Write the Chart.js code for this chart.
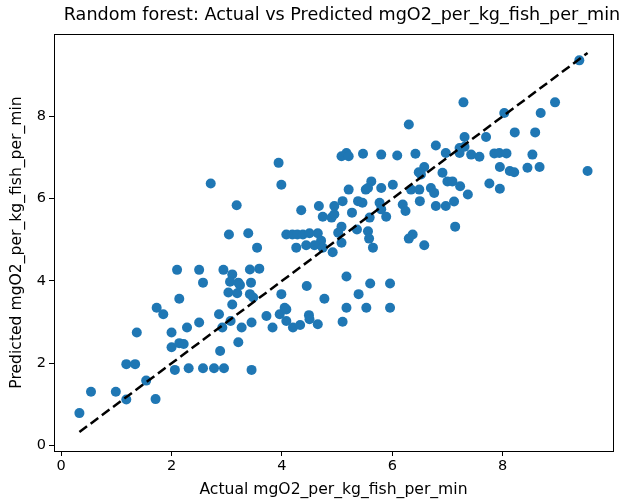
<!DOCTYPE html>
<html>
<head>
<meta charset="utf-8">
<script src="https://cdn.jsdelivr.net/npm/chart.js@4"></script>
<style>
  html, body { margin: 0; padding: 0; background: #fff; }
  canvas { display: block; }
</style>
</head>
<body>
<canvas id="c" width="633" height="500"></canvas>
<script>
const chartTitle = "Random forest: Actual vs Predicted mgO2_per_kg_fish_per_min";
const xAxisTitle = "Actual mgO2_per_kg_fish_per_min";
const yAxisTitle = "Predicted mgO2_per_kg_fish_per_min";

const actual = [
  0.33,0.54,0.99,1.18,1.18,1.34,1.37,1.54,1.71,1.73,
  1.85,2.00,2.00,2.14,2.22,2.06,2.31,2.28,2.50,2.57,
  2.77,2.95,2.88,2.92,3.07,3.21,2.10,2.50,2.57,2.94,
  3.10,3.06,3.21,3.24,3.42,3.59,3.44,3.03,3.19,3.42,
  3.48,2.14,3.10,2.86,3.27,3.45,3.72,3.83,3.96,4.08,
  4.08,4.20,3.45,3.04,3.39,3.55,4.08,4.19,4.28,4.26,
  2.71,3.18,6.30,3.94,3.99,5.08,5.17,5.21,5.47,5.80,
  6.09,6.42,6.58,6.48,6.79,6.97,6.52,6.91,7.00,5.62,
  5.52,5.56,5.21,5.80,6.01,6.34,6.49,6.70,6.76,6.50,
  6.79,6.97,5.10,5.38,5.46,5.77,4.95,4.67,4.35,6.19,
  6.24,5.27,5.80,5.89,5.59,4.74,4.90,4.95,5.08,5.02,
  5.36,5.56,5.58,5.65,6.30,6.37,6.58,4.38,4.50,4.65,
  4.71,4.44,4.59,4.74,4.92,5.08,5.17,4.45,5.60,5.96,
  5.39,4.77,3.99,4.05,5.17,5.53,5.96,4.49,4.33,4.50,
  4.65,5.10,9.39,7.29,8.03,8.69,8.95,7.31,7.70,8.22,
  8.59,7.22,7.22,7.31,7.43,7.58,7.85,7.94,8.07,8.54,
  9.54,7.95,8.13,8.21,8.45,8.67,7.09,7.23,7.76,7.95,
  7.37,7.12,7.14
];
const predicted = [
  0.79,1.31,1.31,1.12,1.98,1.98,2.75,1.58,1.13,3.35,
  3.19,2.75,2.39,2.49,2.47,1.84,1.88,2.87,2.99,1.88,
  1.88,1.88,2.30,2.87,3.03,2.51,4.27,4.27,3.96,4.27,
  4.16,3.98,3.96,3.90,4.28,4.30,3.96,3.72,3.70,3.68,
  3.60,3.57,3.43,3.19,2.87,2.99,3.15,2.87,3.19,3.31,
  3.03,2.87,1.84,5.13,5.16,4.81,5.13,5.13,5.13,4.81,
  6.37,5.84,7.80,6.87,6.34,7.03,7.11,7.03,7.09,7.07,
  7.05,7.09,6.77,6.64,7.29,7.11,6.59,6.63,6.42,6.42,
  6.22,6.26,6.22,6.26,6.34,6.22,6.22,6.26,6.14,5.94,
  5.82,5.82,5.94,5.94,5.90,5.90,5.82,5.82,5.72,5.86,
  5.70,5.66,5.74,5.56,5.54,5.56,5.54,5.62,5.32,5.17,
  5.25,5.21,5.03,4.81,5.03,5.13,4.87,5.13,5.16,5.16,
  4.98,4.87,4.87,4.81,4.70,4.93,4.11,3.88,3.94,3.94,
  3.68,3.57,3.68,3.35,3.35,3.35,3.35,3.17,2.93,3.07,
  2.95,3.01,9.36,8.34,8.08,8.08,8.34,7.50,7.50,7.61,
  7.61,7.23,7.11,7.26,7.07,7.02,7.10,7.11,7.10,7.07,
  6.67,6.77,6.67,6.64,6.75,6.77,6.42,6.30,6.37,6.24,
  6.10,5.93,5.32
];
const xTicks = [0, 2, 4, 6, 8];
const yTicks = [0, 2, 4, 6, 8];

// diagonal y = x from min to max of actual values
const diagMin = Math.min(...actual);
const diagMax = Math.max(...actual);
const diagonal = [{x: diagMin, y: diagMin}, {x: diagMax, y: diagMax}];

const scatterPts = actual.map((a, i) => ({x: a, y: predicted[i]}));

// matplotlib-like 5% margins
const xLo = diagMin, xHi = diagMax;
const yLo = Math.min(diagMin, ...predicted), yHi = Math.max(diagMax, ...predicted);
const xPad = (xHi - xLo) * 0.05, yPad = (yHi - yLo) * 0.05;

const FONT = "'DejaVu Sans', sans-serif";

const framePlugin = {
  id: 'frame',
  afterDatasetsDraw(chart) {
    const a = chart.chartArea, ctx = chart.ctx;
    ctx.save();
    ctx.strokeStyle = '#000';
    ctx.lineWidth = 1;
    ctx.strokeRect(Math.round(a.left) + 0.5, Math.round(a.top) + 0.5,
                   Math.round(a.right - a.left), Math.round(a.bottom - a.top));
    ctx.restore();
  }
};

const titlePlugin = {
  id: 'figTitle',
  afterDraw(chart) {
    const ctx = chart.ctx;
    ctx.save();
    ctx.fillStyle = '#000';
    ctx.font = "17.6px " + FONT;
    ctx.textAlign = 'center';
    ctx.textBaseline = 'middle';
    ctx.fillText(chartTitle, 342, 15.5);
    ctx.restore();
  }
};

new Chart(document.getElementById('c'), {
  type: 'scatter',
  data: {
    datasets: [
      {
        type: 'line',
        data: diagonal,
        borderColor: '#000',
        borderWidth: 2.5,
        borderDash: [9.5, 4.5],
        pointRadius: 0,
        fill: false,
        order: 0
      },
      {
        data: scatterPts,
        backgroundColor: '#1f77b4',
        borderColor: '#1f77b4',
        borderWidth: 0,
        pointRadius: 5,
        pointHoverRadius: 5,
        order: 1
      }
    ]
  },
  options: {
    responsive: false,
    animation: false,
    events: [],
    layout: { padding: { left: 0, right: 20, top: 34, bottom: 0 } },
    plugins: {
      legend: { display: false },
      tooltip: { enabled: false },
      title: { display: false }
    },
    scales: {
      x: {
        type: 'linear',
        min: xLo - xPad,
        max: xHi + xPad,
        afterFit(s) { s.height = 49; },
        afterBuildTicks(s) { s.ticks = xTicks.map(v => ({value: v})); },
        ticks: { color: '#000', font: { family: FONT, size: 14.5 }, padding: 2 },
        grid: { display: true, drawOnChartArea: false, drawTicks: true, tickLength: 5, color: '#000', lineWidth: 1 },
        border: { display: true, color: '#000', width: 1 },
        title: { display: true, text: xAxisTitle, color: '#000', font: { family: FONT, size: 15.6 }, padding: { top: 0, bottom: 1 } }
      },
      y: {
        type: 'linear',
        min: yLo - yPad,
        max: yHi + yPad,
        afterFit(s) { s.width = 54; },
        afterBuildTicks(s) { s.ticks = yTicks.map(v => ({value: v})); },
        ticks: { color: '#000', font: { family: FONT, size: 14.5 }, padding: 3 },
        grid: { display: true, drawOnChartArea: false, drawTicks: true, tickLength: 5, color: '#000', lineWidth: 1 },
        border: { display: true, color: '#000', width: 1 },
        title: { display: true, text: yAxisTitle, color: '#000', font: { family: FONT, size: 15.6 }, padding: { top: 8, bottom: 0 } }
      }
    }
  },
  plugins: [framePlugin, titlePlugin]
});
</script>
</body>
</html>
